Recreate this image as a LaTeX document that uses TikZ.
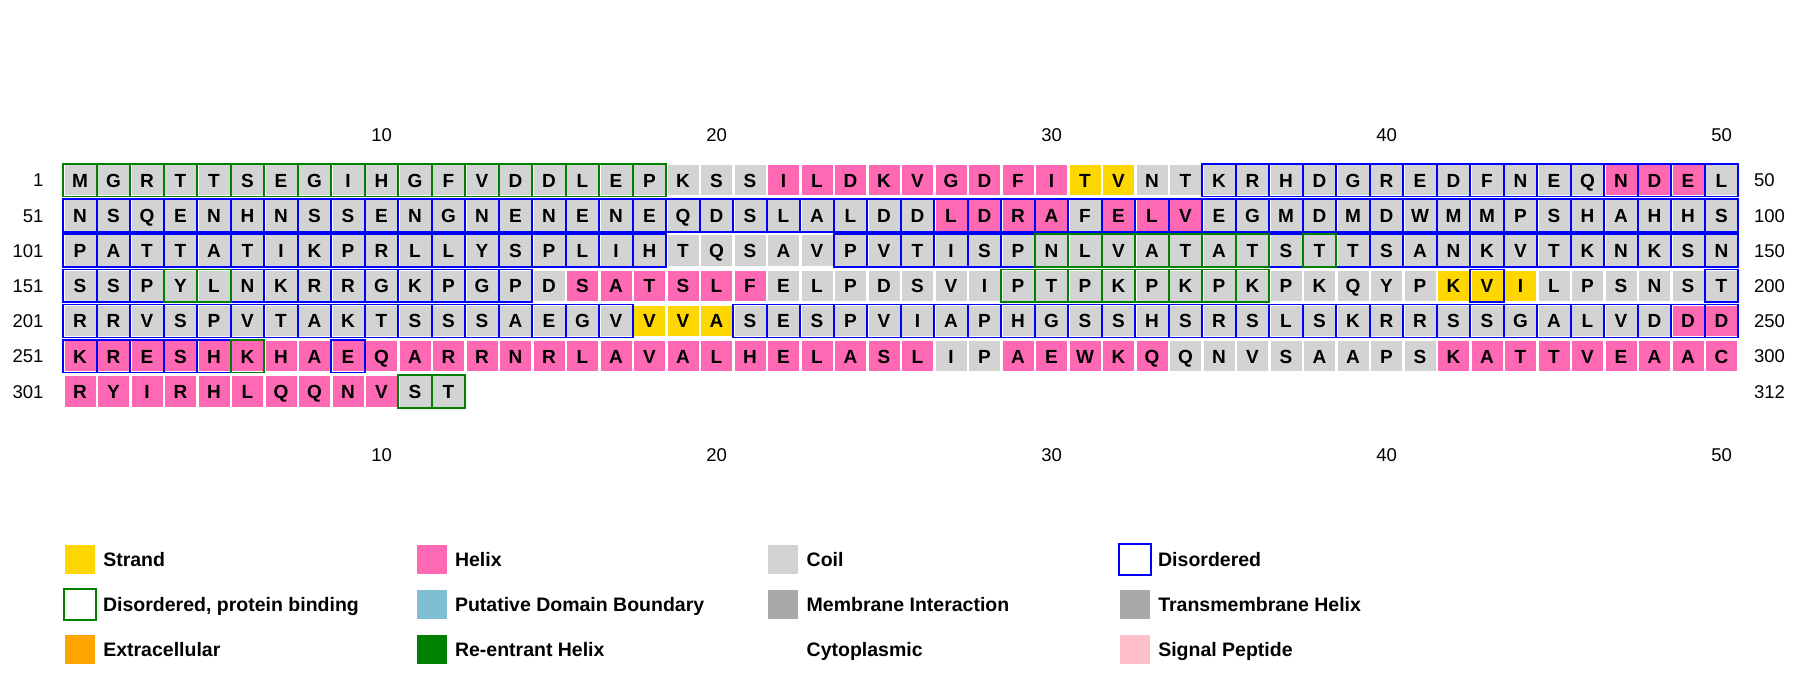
\documentclass[tikz,border=0pt]{standalone}
\usepackage{fontspec}
\setmainfont{Liberation Sans}
\usetikzlibrary{matrix,positioning}
\definecolor{coilgray}{HTML}{D3D3D3}
\definecolor{helixpink}{HTML}{FF69B4}
\definecolor{strandgold}{HTML}{FFD700}
\definecolor{disblue}{HTML}{0000FF}
\definecolor{bindgreen}{HTML}{008000}
\definecolor{domainblue}{HTML}{7FBFD4}
\definecolor{membgray}{HTML}{A9A9A9}
\definecolor{extorange}{HTML}{FFA500}
\definecolor{signalpink}{HTML}{FFC0CB}
\tikzset{
seq/.style={matrix of nodes,
nodes={coil,minimum width=33.5pt,minimum height=32.8pt,inner sep=0pt,outer sep=0pt,
text height=13.8pt,text depth=0pt,font=\fontsize{19}{22}\selectfont\bfseries},
row sep=-0.1pt,column sep=-2.5pt,inner sep=0pt,outer sep=0pt,ampersand replacement=\&},
coil/.style={fill=coilgray,draw=white,line width=2.5pt},
helix/.style={fill=helixpink},
strand/.style={fill=strandgold},
dis/.style={draw=disblue,line width=1.7pt},
pbind/.style={draw=bindgreen,line width=1.7pt},
poslab/.style={font=\fontsize{18.5}{22}\selectfont,inner sep=0pt,outer sep=0pt,text height=13.3pt,text depth=0pt},
swatch/.style={minimum width=30pt,minimum height=29pt,inner sep=0pt,outer sep=0pt},
boxswatch/.style={swatch,minimum width=31.3pt,minimum height=30.7pt,fill=white,line width=2pt},
legtext/.style={font=\fontsize{19.5}{23}\selectfont\bfseries,inner sep=0pt,outer sep=0pt,text height=14pt,text depth=0pt}
}
\newcommand{\Hcell}[1]{|[helix]| #1}
\newcommand{\Scell}[1]{|[strand]| #1}

\begin{document}
\begin{tikzpicture}[x=1pt,y=-1pt]
\useasboundingbox (0,0) rectangle (1800,680);
% residues, 50 per row
\matrix[seq,anchor=north west] (m) at (62.05,162.55) {
M \& G \& R \& T \& T \& S \& E \& G \& I \& H \& G \& F \& V \& D \& D \& L \& E \& P \& K \& S \& S \& \Hcell{I} \& \Hcell{L} \& \Hcell{D} \& \Hcell{K} \& \Hcell{V} \& \Hcell{G} \& \Hcell{D} \& \Hcell{F} \& \Hcell{I} \& \Scell{T} \& \Scell{V} \& N \& T \& K \& R \& H \& D \& G \& R \& E \& D \& F \& N \& E \& Q \& \Hcell{N} \& \Hcell{D} \& \Hcell{E} \& L \\
N \& S \& Q \& E \& N \& H \& N \& S \& S \& E \& N \& G \& N \& E \& N \& E \& N \& E \& Q \& D \& S \& L \& A \& L \& D \& D \& \Hcell{L} \& \Hcell{D} \& \Hcell{R} \& \Hcell{A} \& F \& \Hcell{E} \& \Hcell{L} \& \Hcell{V} \& E \& G \& M \& D \& M \& D \& W \& M \& M \& P \& S \& H \& A \& H \& H \& S \\
P \& A \& T \& T \& A \& T \& I \& K \& P \& R \& L \& L \& Y \& S \& P \& L \& I \& H \& T \& Q \& S \& A \& V \& P \& V \& T \& I \& S \& P \& N \& L \& V \& A \& T \& A \& T \& S \& T \& T \& S \& A \& N \& K \& V \& T \& K \& N \& K \& S \& N \\
S \& S \& P \& Y \& L \& N \& K \& R \& R \& G \& K \& P \& G \& P \& D \& \Hcell{S} \& \Hcell{A} \& \Hcell{T} \& \Hcell{S} \& \Hcell{L} \& \Hcell{F} \& E \& L \& P \& D \& S \& V \& I \& P \& T \& P \& K \& P \& K \& P \& K \& P \& K \& Q \& Y \& P \& \Scell{K} \& \Scell{V} \& \Scell{I} \& L \& P \& S \& N \& S \& T \\
R \& R \& V \& S \& P \& V \& T \& A \& K \& T \& S \& S \& S \& A \& E \& G \& V \& \Scell{V} \& \Scell{V} \& \Scell{A} \& S \& E \& S \& P \& V \& I \& A \& P \& H \& G \& S \& S \& H \& S \& R \& S \& L \& S \& K \& R \& R \& S \& S \& G \& A \& L \& V \& D \& \Hcell{D} \& \Hcell{D} \\
\Hcell{K} \& \Hcell{R} \& \Hcell{E} \& \Hcell{S} \& \Hcell{H} \& \Hcell{K} \& \Hcell{H} \& \Hcell{A} \& \Hcell{E} \& \Hcell{Q} \& \Hcell{A} \& \Hcell{R} \& \Hcell{R} \& \Hcell{N} \& \Hcell{R} \& \Hcell{L} \& \Hcell{A} \& \Hcell{V} \& \Hcell{A} \& \Hcell{L} \& \Hcell{H} \& \Hcell{E} \& \Hcell{L} \& \Hcell{A} \& \Hcell{S} \& \Hcell{L} \& I \& P \& \Hcell{A} \& \Hcell{E} \& \Hcell{W} \& \Hcell{K} \& \Hcell{Q} \& Q \& N \& V \& S \& A \& A \& P \& S \& \Hcell{K} \& \Hcell{A} \& \Hcell{T} \& \Hcell{T} \& \Hcell{V} \& \Hcell{E} \& \Hcell{A} \& \Hcell{A} \& \Hcell{C} \\
\Hcell{R} \& \Hcell{Y} \& \Hcell{I} \& \Hcell{R} \& \Hcell{H} \& \Hcell{L} \& \Hcell{Q} \& \Hcell{Q} \& \Hcell{N} \& \Hcell{V} \& S \& T \\
};
% disordered and protein binding outlines
\foreach \r/\a/\b in {1/35/50,2/1/50,3/1/18,3/24/29,3/37/37,3/39/50,4/1/3,4/6/14,4/43/43,4/50/50,5/1/17,5/21/50,6/1/5,6/9/9}
  \foreach \c in {\a,...,\b}
    \draw[dis] (m-\r-\c.north west) rectangle (m-\r-\c.south east);
\foreach \r/\a/\b in {1/1/18,3/30/36,3/38/38,4/4/5,4/29/36,6/6/6,7/11/12}
  \foreach \c in {\a,...,\b}
    \draw[pbind] (m-\r-\c.north west) rectangle (m-\r-\c.south east);
% position labels
\coordinate[xshift=15.7pt] (rcol) at (m-1-50.east);
\foreach \r/\lo/\hi in {1/1/50,2/51/100,3/101/150,4/151/200,5/201/250,6/251/300,7/301/312} {
  \node[poslab,left=19.8pt of m-\r-1] (lo\r) {\lo};
  \node[poslab,anchor=west] (hi\r) at (rcol |- m-\r-1) {\hi};
}
\foreach \c in {10,20,30,40,50} {
  \node[poslab,above=22pt of m-1-\c] (top\c) {\c};
  \coordinate (bot\c) at (m-1-\c.south |- m-7-1.south);
  \node[poslab,below=40pt of bot\c] (btm\c) {\c};
}
% legend
\node[swatch,fill=strandgold] (sw1) at (80,559.7) {};
\node[legtext,right=8.3pt of sw1] (lt1) {Strand};
\node[swatch,fill=helixpink] (sw2) at (431.7,559.7) {};
\node[legtext,right=8.3pt of sw2] (lt2) {Helix};
\node[swatch,fill=coilgray] (sw3) at (783.4,559.7) {};
\node[legtext,right=8.3pt of sw3] (lt3) {Coil};
\node[boxswatch,draw=disblue] (sw4) at (1135,559.7) {};
\node[legtext,right=7.5pt of sw4] (lt4) {Disordered};
\node[boxswatch,draw=bindgreen] (sw5) at (80,604.7) {};
\node[legtext,right=7.5pt of sw5] (lt5) {Disordered, protein binding};
\node[swatch,fill=domainblue] (sw6) at (431.7,604.7) {};
\node[legtext,right=8.3pt of sw6] (lt6) {Putative Domain Boundary};
\node[swatch,fill=membgray] (sw7) at (783.4,604.7) {};
\node[legtext,right=8.3pt of sw7] (lt7) {Membrane Interaction};
\node[swatch,fill=membgray] (sw8) at (1135,604.7) {};
\node[legtext,right=8.3pt of sw8] (lt8) {Transmembrane Helix};
\node[swatch,fill=extorange] (sw9) at (80,649.7) {};
\node[legtext,right=8.3pt of sw9] (lt9) {Extracellular};
\node[swatch,fill=bindgreen] (sw10) at (431.7,649.7) {};
\node[legtext,right=8.3pt of sw10] (lt10) {Re-entrant Helix};
\coordinate (sw11) at (798.4,649.7);
\node[legtext,right=8.3pt of sw11] (lt11) {Cytoplasmic};
\node[swatch,fill=signalpink] (sw12) at (1135,649.7) {};
\node[legtext,right=8.3pt of sw12] (lt12) {Signal Peptide};
\end{tikzpicture}
\end{document}
